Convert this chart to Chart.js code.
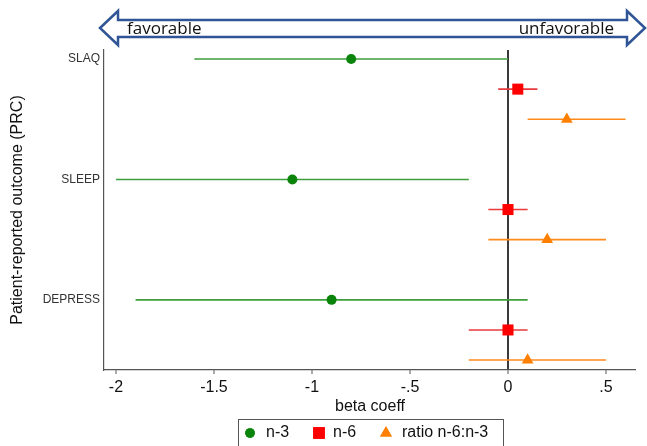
<!DOCTYPE html>
<html>
<head>
<meta charset="utf-8">
<script src="https://cdn.jsdelivr.net/npm/chart.js@4/dist/chart.umd.min.js"></script>
<style>
  html, body { margin: 0; padding: 0; background: #fff; }
  #wrap { width: 647px; height: 446px; position: relative; }
</style>
</head>
<body>
<div id="wrap"><canvas id="forest"></canvas></div>
<script>
// outcomes and exposures
const outcomes = ['SLAQ', 'SLEEP', 'DEPRESS'];
const seriesNames = ['n-3', 'n-6', 'ratio n-6:n-3'];

// beta coefficients with 95% CI, one entry per outcome
const n3Beta = [-0.8, -1.1, -0.9];
const n3Lo   = [-1.6, -2.0, -1.9];
const n3Hi   = [0.0, -0.2, 0.1];

const n6Beta = [0.05, 0.0, 0.0];
const n6Lo   = [-0.05, -0.1, -0.2];
const n6Hi   = [0.15, 0.1, 0.1];

const ratioBeta = [0.3, 0.2, 0.1];
const ratioLo   = [0.1, -0.1, -0.2];
const ratioHi   = [0.6, 0.5, 0.5];

const xTicks = [-2, -1.5, -1, -0.5, 0, 0.5];
const xTickLabels = ['-2', '-1.5', '-1', '-.5', '0', '.5'];

const markerColors = ['#0b840b', '#ff0000', '#ff8000'];
const lineColors = ['#3c9f3c', '#e8393d', '#ff8a1c'];
const markerStyles = ['circle', 'rect', 'triangle'];
const markerSizes = [5, 7.8, 6.8];
const legendSizes = [4.8, 8.2, 6.8];

const FONT = 'Liberation Sans';

const all = [
  { beta: n3Beta, lo: n3Lo, hi: n3Hi },
  { beta: n6Beta, lo: n6Lo, hi: n6Hi },
  { beta: ratioBeta, lo: ratioLo, hi: ratioHi },
];

const rowOf = (g, s) => g * 4 + s;

const datasets = [];
all.forEach((ser, s) => {
  datasets.push({
    label: seriesNames[s],
    data: ser.beta.map((b, g) => ({ x: b, y: rowOf(g, s) })),
    pointStyle: markerStyles[s],
    pointRadius: markerSizes[s],
    pointHoverRadius: markerSizes[s],
    backgroundColor: markerColors[s],
    borderColor: markerColors[s],
    borderWidth: 0,
    showLine: false,
    order: 0,
  });
});
// confidence intervals, one segment each
all.forEach((ser, s) => {
  ser.beta.forEach((b, g) => {
    datasets.push({
      label: 'ci',
      data: [{ x: ser.lo[g], y: rowOf(g, s) }, { x: ser.hi[g], y: rowOf(g, s) }],
      showLine: true,
      borderColor: lineColors[s],
      borderWidth: 1.6,
      pointRadius: 0,
      pointHoverRadius: 0,
      order: 1,
    });
  });
});

const decoPlugin = {
  id: 'deco',
  afterDraw(chart) {
    const c = chart.ctx;
    // double arrow at the top
    const L = 100, R = 645, top = 11, bot = 45, mid = 28, sTop = 20, sBot = 37, head = 18;
    c.save();
    c.beginPath();
    c.moveTo(L, mid);
    c.lineTo(L + head, top);
    c.lineTo(L + head, sTop);
    c.lineTo(R - head, sTop);
    c.lineTo(R - head, top);
    c.lineTo(R, mid);
    c.lineTo(R - head, bot);
    c.lineTo(R - head, sBot);
    c.lineTo(L + head, sBot);
    c.lineTo(L + head, bot);
    c.closePath();
    c.fillStyle = '#fff';
    c.fill();
    c.lineWidth = 2.5;
    c.lineJoin = 'miter';
    c.strokeStyle = '#2f5597';
    c.stroke();
    c.fillStyle = '#111';
    c.font = '17px "Open Sans", sans-serif';
    c.textBaseline = 'middle';
    c.textAlign = 'left';
    c.fillText('favorable', 127, 29);
    c.textAlign = 'right';
    c.fillText('unfavorable', 614, 29);

    // legend below the plot
    const bx = 238.5, by = 419.5, bw = 265, bh = 30;
    c.strokeStyle = '#555';
    c.lineWidth = 1;
    c.strokeRect(bx, by, bw, bh);
    c.font = '16px "' + FONT + '"';
    c.textAlign = 'left';
    const ly = 433;
    const markX = [250, 319, 386];
    const textX = [266, 333, 402];
    seriesNames.forEach((name, s) => {
      c.fillStyle = markerColors[s];
      c.strokeStyle = markerColors[s];
      Chart.helpers.drawPoint(c, { pointStyle: markerStyles[s], radius: legendSizes[s], borderWidth: 0, rotation: 0 }, markX[s], ly);
      c.fill();
      c.fillStyle = '#111';
      c.fillText(name, textX[s], ly);
    });
    c.restore();
  }
};

new Chart(document.getElementById('forest'), {
  type: 'scatter',
  data: { datasets },
  plugins: [decoPlugin],
  options: {
    responsive: true,
    maintainAspectRatio: false,
    animation: false,
    layout: { padding: { top: 50, right: 11, left: 0, bottom: 28 } },
    plugins: {
      tooltip: { enabled: false },
      legend: { display: false },
    },
    scales: {
      x: {
        type: 'linear',
        min: -2.061,
        max: 0.653,
        afterBuildTicks: (scale) => { scale.ticks = xTicks.map(v => ({ value: v })); },
        afterFit: (scale) => { scale.height = 48; },
        ticks: {
          callback: (v) => xTickLabels[xTicks.indexOf(v)],
          color: '#111',
          font: { family: FONT, size: 16 },
          padding: 4,
          maxRotation: 0,
        },
        grid: {
          color: (ctx) => (ctx.tick && ctx.tick.value === 0 ? '#3a3a3a' : 'rgba(0,0,0,0)'),
          lineWidth: (ctx) => (ctx.tick && ctx.tick.value === 0 ? 2 : 0),
          tickColor: '#555',
          tickWidth: 1,
          tickLength: 4,
        },
        border: { color: '#555', width: 1.2 },
        title: {
          display: true,
          text: 'beta coeff',
          color: '#111',
          font: { family: FONT, size: 16 },
          padding: { top: 0, bottom: 2 },
        },
      },
      y: {
        type: 'linear',
        reverse: true,
        min: -0.3,
        max: 10.33,
        afterBuildTicks: (scale) => { scale.ticks = outcomes.map((o, g) => ({ value: rowOf(g, 0) })); },
        afterFit: (scale) => { scale.width = 104; },
        ticks: {
          callback: (v) => outcomes[v / 4],
          color: '#333',
          font: { family: FONT, size: 12 },
          padding: 4,
        },
        grid: { display: false, drawTicks: false },
        border: { color: '#555', width: 1.2 },
        title: {
          display: true,
          text: 'Patient-reported outcome (PRC)',
          color: '#111',
          font: { family: FONT, size: 16 },
          padding: { top: 8, bottom: 0 },
        },
      },
    },
  },
});
</script>
</body>
</html>
